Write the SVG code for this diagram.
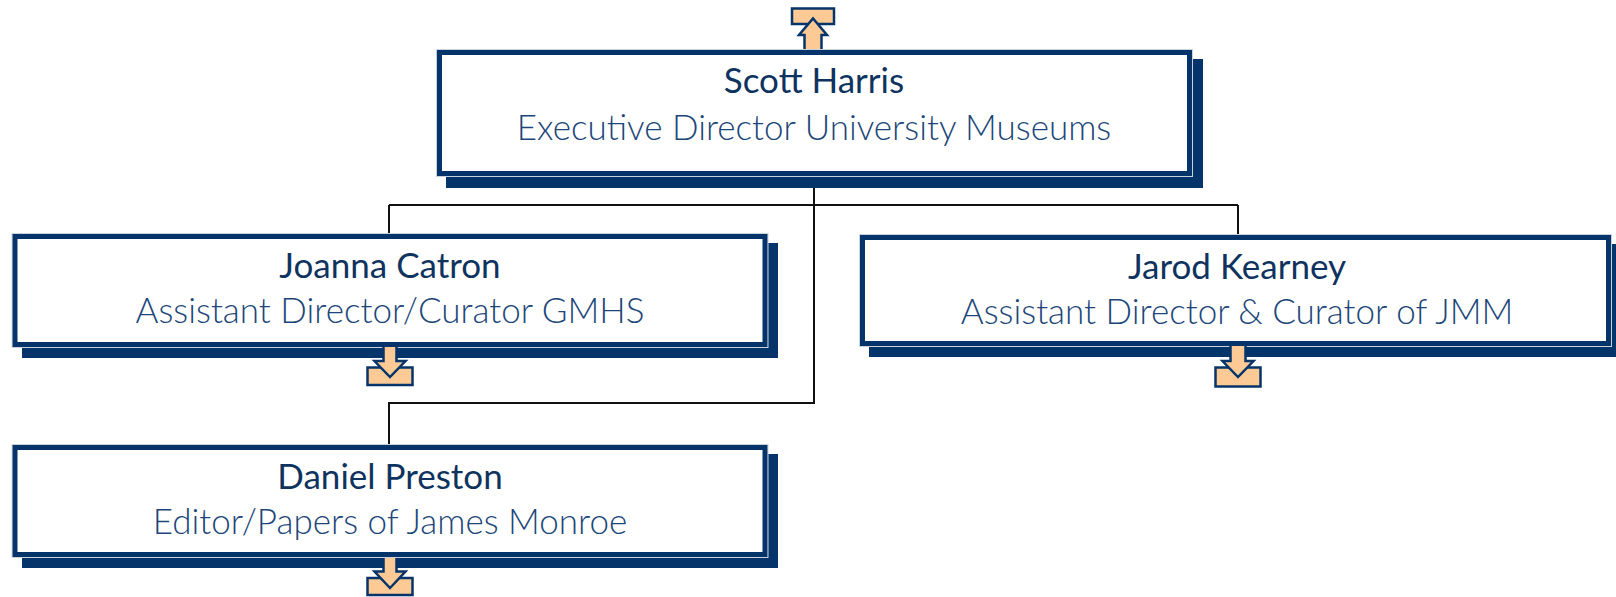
<svg xmlns="http://www.w3.org/2000/svg" width="1616" height="597" viewBox="0 0 1616 597">
<style>
.shadow{fill:#04346a}
.halo{fill:#ffffff;stroke:#c9d1dc;stroke-width:1}
.frame{fill:none;stroke:#04346a;stroke-width:5}
.name{font-family:Lato,"Open Sans",sans-serif;font-size:35px;fill:#0f335f;text-anchor:middle}
.title{font-family:Lato,"Open Sans",sans-serif;font-weight:300;font-size:35px;fill:#1c4679;text-anchor:middle}
.arrow{fill:#fdc994;stroke:#04346a;stroke-width:2.5;stroke-linejoin:miter}
.conn{fill:none;stroke:#111111;stroke-width:2}
</style>
<rect width="1616" height="597" fill="#ffffff"/>
<g id="connectors">
<path class="conn" d="M814 177 V205 M389 205 H1238 M389 205 V233 M1238 205 V234"/>
<path class="conn" d="M814 205 V403 H389 V444"/>
</g>
<g id="node-scott">
<rect class="shadow" x="446" y="59" width="757" height="129"/>
<rect class="halo" x="436.5" y="49.5" width="756" height="127"/>
<rect class="frame" x="439.5" y="52.5" width="750" height="121"/>
<text class="name" x="814" y="93">Scott Harris</text>
<text class="title" x="814" y="140">Executive Director University Museums</text>
<rect class="arrow" x="792" y="8.5" width="42" height="15.5"/>
<path class="arrow" d="M804.5 49 V35 H799 L813 18.5 L827 35 H821.5 V49"/>
</g>
<g id="node-joanna">
<rect class="shadow" x="22" y="243" width="756" height="115"/>
<rect class="halo" x="12" y="233.5" width="756" height="114"/>
<rect class="frame" x="15" y="236.5" width="750" height="108"/>
<text class="name" x="390" y="278">Joanna Catron</text>
<text class="title" x="390" y="323">Assistant Director/Curator GMHS</text>
<rect class="arrow" x="367.5" y="367.5" width="45" height="17.5"/>
<path class="arrow" d="M383.5 347 V361 H374.5 L390 377 L405.5 361 H396.5 V347"/>
</g>
<g id="node-jarod">
<rect class="shadow" x="869" y="244" width="756" height="113"/>
<rect class="halo" x="859.5" y="234.5" width="752" height="112"/>
<rect class="frame" x="862.5" y="237.5" width="746" height="106"/>
<text class="name" x="1237" y="279">Jarod Kearney</text>
<text class="title" x="1237" y="324">Assistant Director &amp; Curator of JMM</text>
<rect class="arrow" x="1215.5" y="367.5" width="45" height="19"/>
<path class="arrow" d="M1230.5 346 V361 H1222.5 L1238 377 L1253.5 361 H1245.5 V346"/>
</g>
<g id="node-daniel">
<rect class="shadow" x="22" y="454" width="756" height="114"/>
<rect class="halo" x="12" y="444.5" width="756" height="113"/>
<rect class="frame" x="15" y="447.5" width="750" height="107"/>
<text class="name" x="390" y="489">Daniel Preston</text>
<text class="title" x="390" y="534">Editor/Papers of James Monroe</text>
<rect class="arrow" x="367.5" y="578" width="45" height="17"/>
<path class="arrow" d="M383.5 558 V571.5 H374.5 L390 588 L405.5 571.5 H396.5 V558"/>
</g>
</svg>
